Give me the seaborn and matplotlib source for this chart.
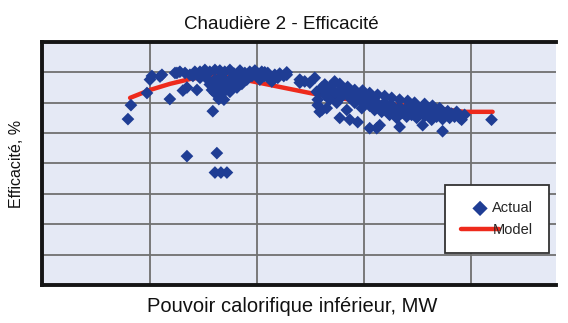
import matplotlib
matplotlib.use('Agg')
import numpy as np
import pandas as pd
import matplotlib.pyplot as plt
import seaborn as sns

# Measured points (Actual): heat input in MW, efficiency in %
puissance_mw = [
    3.97, 4.11, 4.86, 5.00, 5.09, 5.47, 5.56, 5.93, 6.17, 6.40, 6.54, 6.73, 6.87, 7.10,
    7.20, 7.34, 7.57, 7.80, 7.94, 8.04, 6.73, 8.13, 8.04, 8.32, 8.60, 6.26, 6.64, 7.01,
    7.34, 7.57, 7.71, 7.80, 7.90, 8.04, 8.04, 8.13, 8.18, 8.22, 8.27, 8.27, 8.36, 8.41,
    8.46, 8.50, 8.55, 8.64, 8.74, 8.74, 8.83, 8.93, 8.97, 9.07, 9.21, 9.21, 9.30, 9.44,
    9.53, 9.67, 9.77, 9.91, 10.05, 10.14, 10.23, 10.37, 10.51, 10.61, 10.70, 10.84, 10.98,
    11.07, 11.26, 11.40,
    12.01, 12.24, 12.48, 12.71, 12.80, 12.85, 12.94, 13.04, 13.18, 13.18, 13.32, 13.41,
    13.50, 13.64, 13.74, 13.88, 13.88, 13.97, 14.11, 14.21, 14.35, 14.35, 14.44, 14.58,
    14.72, 14.72, 14.81, 14.91, 15.05, 15.14, 15.28, 15.28, 15.37, 15.51, 15.61, 15.61,
    15.75, 15.75, 15.84, 15.98, 16.07, 16.21, 16.31, 16.45, 16.54, 16.68, 16.68, 16.78,
    16.92, 17.01, 17.15, 17.24, 17.38, 17.48, 17.62, 17.71, 17.76, 17.85, 17.94, 18.08,
    18.18, 18.32, 18.41, 18.55, 18.69, 18.69, 18.79, 18.93, 19.02, 19.11, 19.25, 19.35,
    19.49, 19.58, 19.72, 20.98,
    13.64, 13.88, 14.25, 14.58, 14.95, 15.28, 15.65, 15.98, 16.31, 16.68, 17.06, 17.38,
    17.85, 18.22, 18.55, 12.85, 13.04, 13.27, 11.40, 12.01, 10.37,
]
efficacite_pct = [
    77.3, 79.6, 81.6, 83.8, 84.4, 84.3, 84.6, 80.6, 84.9, 85.1, 82.0, 82.5, 84.6, 85.1,
    82.1, 85.1, 85.4, 85.1, 78.6, 81.6, 71.2, 71.7, 68.5, 68.5, 68.5, 84.9, 84.9, 84.4,
    84.1, 84.4, 83.8, 83.0, 82.1, 85.4, 83.8, 83.1, 81.3, 80.6, 85.3, 84.1, 82.5, 81.6,
    80.5, 85.1, 83.5, 82.8, 85.4, 81.8, 84.1, 84.8, 83.3, 82.5, 85.3, 84.1, 83.1, 84.9,
    83.8, 85.1, 84.4, 85.3, 84.8, 83.8, 85.1, 84.4, 84.9, 83.9, 83.5, 84.6, 84.1,
    84.8, 84.4, 84.6,
    83.3, 83.5, 83.3, 84.1, 81.8, 80.5, 78.5, 82.5, 83.0, 81.3, 82.1, 80.5,
    82.8, 81.6, 80.0, 77.5, 82.1, 81.0, 81.8, 78.8, 77.2, 80.8, 81.6, 80.0,
    76.8, 81.1, 80.5, 79.1, 80.8, 80.0, 75.8, 79.5, 80.5, 78.8, 75.8, 80.0,
    76.3, 79.3, 78.5, 80.0, 79.1, 78.0, 79.6, 78.8, 77.5, 76.0, 79.3, 78.3,
    78.8, 77.7, 79.1, 78.0, 78.5, 77.5, 79.1, 78.3, 76.3, 77.8, 78.8, 78.0,
    77.2, 78.6, 77.7, 78.3, 75.3, 77.3, 78.0, 78.6, 77.5, 78.2, 77.7, 78.5,
    77.5, 77.2, 78.0, 77.2,
    83.5, 83.1, 82.6, 82.1, 82.0, 81.6, 81.3, 81.1, 80.8, 80.5, 80.3, 80.0,
    79.8, 79.5, 79.1, 79.6, 78.8, 79.1, 85.0, 83.8, 85.0,
]

# Model curve
modele_mw = [4.07, 5.00, 5.93, 6.87, 7.80, 8.74, 9.67, 11.07, 12.62, 14.35, 16.68, 18.55, 19.72, 21.03]
modele_pct = [80.8, 82.1, 83.1, 83.9, 84.4, 84.3, 83.6, 82.6, 81.5, 80.5, 79.6, 79.0, 78.5, 78.5]

actual = pd.DataFrame({"mw": puissance_mw, "eff": efficacite_pct})
model = pd.DataFrame({"mw": modele_mw, "eff": modele_pct})

sns.set_style("white")
plt.rcParams['font.family'] = ['Liberation Sans', 'DejaVu Sans']

fig = plt.figure(figsize=(5.68, 3.23), dpi=100)
ax = fig.add_axes([0.074, 0.118, 0.905, 0.752])
ax.set_facecolor("#e5e9f5")

sns.lineplot(data=model, x="mw", y="eff", ax=ax, color="#ee2a1c", linewidth=3.2,
             label="Model", zorder=2, sort=False)
sns.scatterplot(data=actual, x="mw", y="eff", ax=ax, marker="D", s=42, color="#1f3d94",
                edgecolor="none", label="Actual", zorder=3)

ax.set_xlim(-0.05, 24.0)
ax.set_ylim(50, 90)
ax.set_xticks([5, 10, 15, 20])
ax.set_yticks([55, 60, 65, 70, 75, 80, 85])
ax.tick_params(length=0, labelbottom=False, labelleft=False)
ax.grid(True, color="#707070", linewidth=1.3)
ax.set_axisbelow(True)

for side in ["left", "top", "bottom"]:
    ax.spines[side].set_color("#151515")
    ax.spines[side].set_linewidth(2.8)
ax.spines["right"].set_visible(False)

ax.set_title("Chaudière 2 - Efficacité", fontsize=13.5, pad=9, color="#111111", x=0.465)
ax.set_xlabel("Pouvoir calorifique inférieur, MW", fontsize=14.5, color="#111111")
ax.xaxis.set_label_coords(0.487, -0.05, transform=ax.transAxes)
ax.xaxis.label.set_verticalalignment("top")
ax.set_ylabel("Efficacité, %", fontsize=11.5, labelpad=13, color="#111111")

handles, labels = ax.get_legend_handles_labels()
order = [labels.index("Actual"), labels.index("Model")]
leg = ax.legend([handles[i] for i in order], [labels[i] for i in order],
                loc="lower left", bbox_to_anchor=(0.784, 0.13), fontsize=10.5,
                frameon=True, fancybox=False, framealpha=1, edgecolor="#333333",
                borderpad=1.1, labelspacing=0.55, handlelength=2.6, handletextpad=-0.45,
                markerscale=1.2, borderaxespad=0)
leg.get_frame().set_linewidth(1.3)

fig.savefig("out.png", dpi=100)
